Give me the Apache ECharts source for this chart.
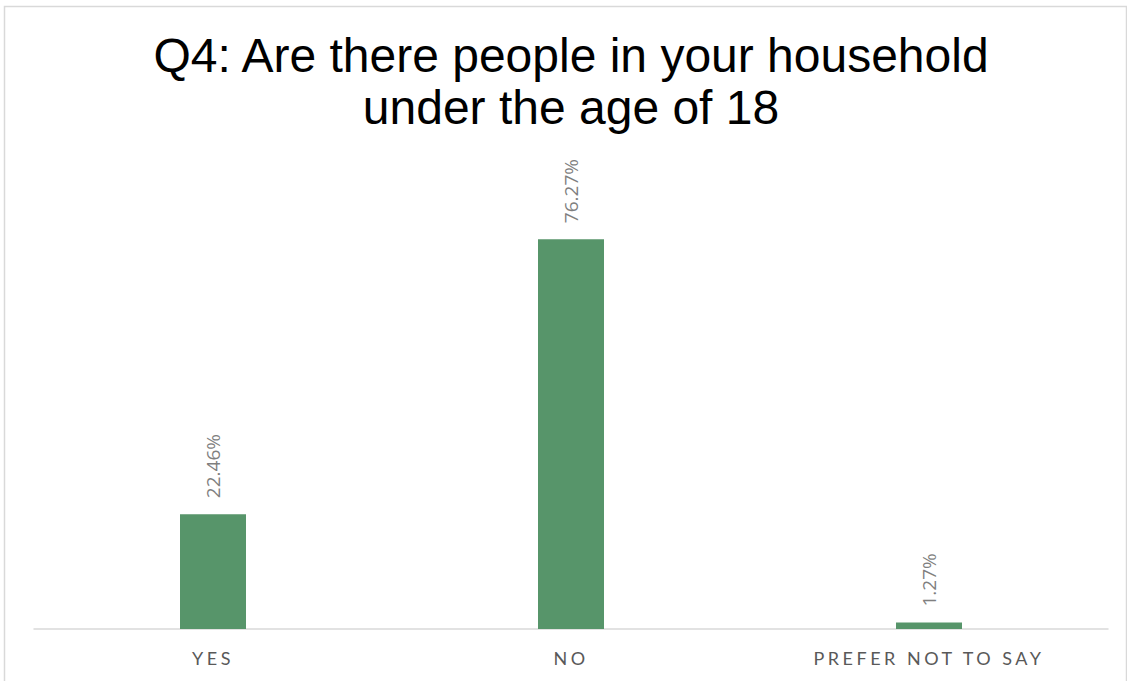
<!DOCTYPE html>
<html>
<head>
<meta charset="utf-8">
<style>
  html, body { margin: 0; padding: 0; background: #fff; }
  #chart { width: 1127px; height: 681px; }
  #chart text[style*="Lato"] { letter-spacing: 3.5px; }
</style>
<script src="https://cdn.jsdelivr.net/npm/echarts@6/dist/echarts.min.js"></script>
</head>
<body>
<div id="chart"></div>
<script>
const titleText = 'Q4: Are there people in your household\nunder the age of 18';
const categories = ['YES', 'NO', 'PREFER NOT TO SAY'];
const values = [22.46, 76.27, 1.27];

const chart = echarts.init(document.getElementById('chart'), null, { renderer: 'svg' });
chart.setOption({
  animation: false,
  backgroundColor: '#ffffff',
  title: {
    text: titleText,
    left: 566,
    textAlign: 'center',
    top: 24,
    textStyle: {
      fontFamily: 'Liberation Sans, Arial, sans-serif',
      fontSize: 48,
      fontWeight: 'normal',
      color: '#000000',
      lineHeight: 52
    }
  },
  graphic: [{
    type: 'rect',
    shape: { x: 4.5, y: 6.5, width: 1122, height: 700 },
    style: { fill: 'none', stroke: '#d9d9d9', lineWidth: 1.5 },
    silent: true,
    z: -10
  }],
  grid: { left: 34, right: 19, top: 169, bottom: 52, containLabel: false },
  xAxis: {
    type: 'category',
    data: categories,
    axisLine: { lineStyle: { color: '#d9d9d9', width: 1.5 } },
    axisTick: { show: false },
    axisLabel: {
      margin: 20,
      fontFamily: 'Lato',
      fontSize: 18,
      color: '#595959'
    }
  },
  yAxis: {
    type: 'value',
    min: 0,
    max: 90,
    show: false,
    splitLine: { show: false }
  },
  series: [{
    type: 'bar',
    data: values,
    barWidth: 66,
    itemStyle: { color: '#57956a' },
    label: {
      show: true,
      position: 'top',
      rotate: 90,
      align: 'left',
      verticalAlign: 'middle',
      distance: 16,
      fontFamily: 'Open Sans, sans-serif',
      fontSize: 19,
      color: '#7f7f7f',
      formatter: p => p.value.toFixed(2) + '%'
    }
  }]
});
</script>
</body>
</html>
